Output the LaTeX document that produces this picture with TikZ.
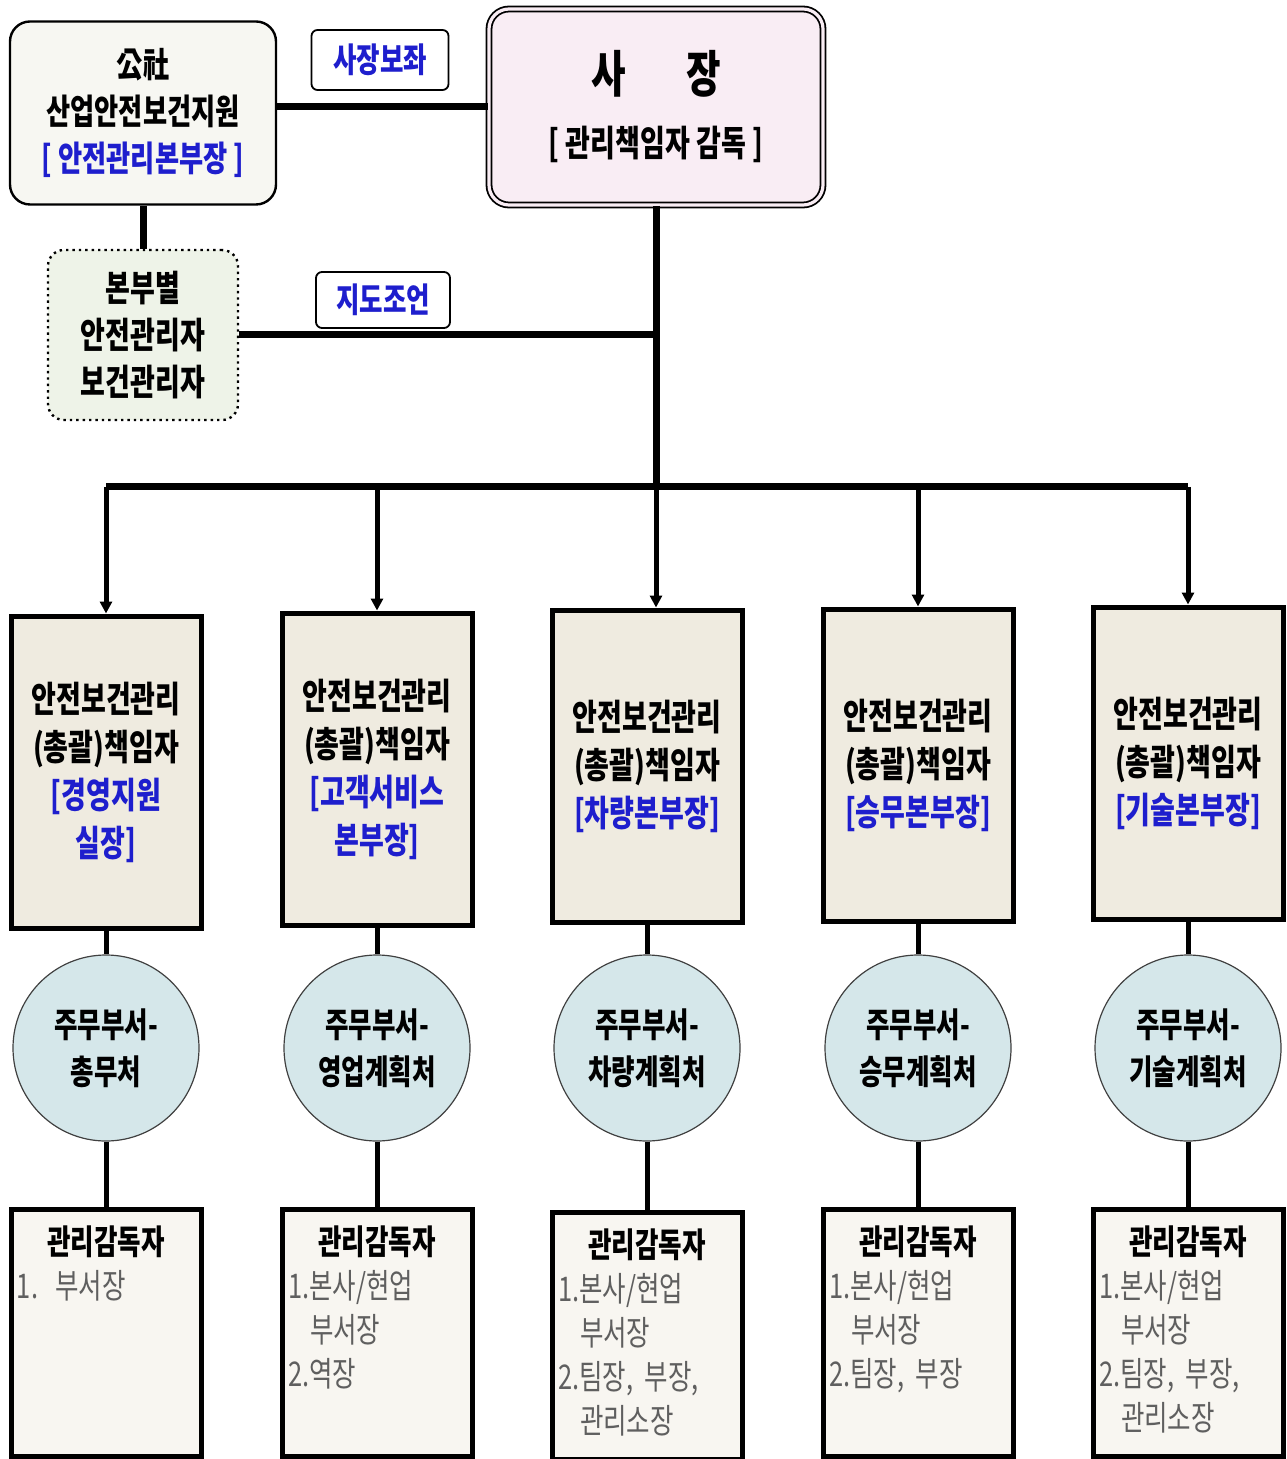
\documentclass[tikz,border=0pt]{standalone}
\usepackage{fontspec}
\setmainfont{Noto Sans CJK KR}[FakeStretch=0.75]
\usetikzlibrary{arrows.meta}
\definecolor{headblue}{RGB}{30,30,205}
\definecolor{itemgray}{RGB}{95,95,95}
\definecolor{topbg}{RGB}{247,247,242}
\definecolor{ceobg}{RGB}{249,237,244}
\definecolor{localbg}{RGB}{238,243,232}
\definecolor{leadbg}{RGB}{239,235,224}
\definecolor{deptbg}{RGB}{213,231,234}
\definecolor{staffbg}{RGB}{248,246,241}
\tikzset{
	% node styles for the chart: top boxes, tags, lead boxes, circles, staff boxes
	top node/.style={draw,line width=1.2pt,fill=topbg,rounded corners=10pt,align=center,font=\bfseries\fontsize{17.5}{23.5}\selectfont},
	ceo node/.style={draw,line width=0.9pt,double=ceobg,double distance=1.6pt,fill=ceobg,rounded corners=10pt,align=center,font=\bfseries\fontsize{18}{24}\selectfont},
	tag node/.style={draw,line width=0.9pt,fill=white,rounded corners=3pt,text=headblue,font=\bfseries\fontsize{17}{20}\selectfont},
	local node/.style={draw,dotted,line width=1.2pt,fill=localbg,rounded corners=8pt,align=center,font=\bfseries\fontsize{18}{23.5}\selectfont},
	lead node/.style={draw,line width=2.5pt,fill=leadbg,minimum width=95pt,minimum height=156pt,align=center,font=\bfseries\fontsize{18}{24}\selectfont},
	dept node/.style={circle,draw=black!75,line width=0.6pt,fill=deptbg,minimum size=93pt,inner sep=0pt,align=center,font=\bfseries\fontsize{17}{23.5}\selectfont},
	staff node/.style={draw,line width=2.5pt,fill=staffbg,minimum width=95pt,minimum height=123.5pt},
	staff text/.style={anchor=north,yshift=-6pt,align=left,text width=89pt,inner sep=3pt,text=itemgray,font=\fontsize{17}{22}\selectfont},
	bus line/.style={line width=3.5pt},
	stem line/.style={line width=2.5pt},
	down arrow/.style={line width=2.5pt,-{Triangle[length=6pt,width=6pt]}}
}
\newcommand{\staffhead}{\makebox[89pt]{\textcolor{black}{\bfseries 관리감독자}}}

\begin{document}
\begin{tikzpicture}[x=0.5pt,y=-0.5pt]
\useasboundingbox (0,0) rectangle (1286,1459);

% top row: support office and president
\node(kosha)[top node,minimum width=133pt,minimum height=91.5pt] at (143,113) {公社\\산업안전보건지원\\\textcolor{headblue}{[ 안전관리본부장 ]}};
\node(ceo)[ceo node,minimum width=167pt,minimum height=98pt] at (656,107) {{\fontsize{25}{30}\selectfont 사\hspace{30pt}장}\\[8pt][ 관리책임자 감독 ]};
\node(aide)[tag node,minimum width=68.5pt,minimum height=30pt] at (380,60) {사장보좌};

% local managers (dotted box)
\node(local)[local node,minimum width=95pt,minimum height=85pt] at (143,335) {본부별\\안전관리자\\보건관리자};
\node(advice)[tag node,minimum width=67pt,minimum height=28pt] at (383,300) {지도조언};

% junction of the bus
\coordinate(hub) at (656,487);

% lead boxes (level 1)
\node(m1)[lead node] at (106,772) {안전보건관리\\(총괄)책임자\\\textcolor{headblue}{[경영지원}\\\textcolor{headblue}{실장]}};
\node(m2)[lead node] at (377,769) {안전보건관리\\(총괄)책임자\\\textcolor{headblue}{[고객서비스}\\\textcolor{headblue}{본부장]}};
\node(m3)[lead node] at (647,766) {안전보건관리\\(총괄)책임자\\\textcolor{headblue}{[차량본부장]}};
\node(m4)[lead node] at (918,765) {안전보건관리\\(총괄)책임자\\\textcolor{headblue}{[승무본부장]}};
\node(m5)[lead node] at (1188,763) {안전보건관리\\(총괄)책임자\\\textcolor{headblue}{[기술본부장]}};

% departments in charge (level 2)
\node(c1)[dept node] at (106,1048) {주무부서-\\총무처};
\node(c2)[dept node] at (377,1048) {주무부서-\\영업계획처};
\node(c3)[dept node] at (647,1048) {주무부서-\\차량계획처};
\node(c4)[dept node] at (918,1048) {주무부서-\\승무계획처};
\node(c5)[dept node] at (1188,1048) {주무부서-\\기술계획처};

% supervisors (level 3)
\node(s1)[staff node,label={[staff text]north:{\staffhead\\1. 부서장}}] at (106,1333) {};
\node(s2)[staff node,label={[staff text]north:{\staffhead\\1.본사/현업\\\hspace*{11pt}부서장\\2.역장}}] at (377,1333) {};
\node(s3)[staff node,label={[staff text]north:{\staffhead\\1.본사/현업\\\hspace*{11pt}부서장\\2.팀장, 부장,\\\hspace*{11pt}관리소장}}] at (647,1336) {};
\node(s4)[staff node,label={[staff text]north:{\staffhead\\1.본사/현업\\\hspace*{11pt}부서장\\2.팀장, 부장}}] at (918,1333) {};
\node(s5)[staff node,label={[staff text]north:{\staffhead\\1.본사/현업\\\hspace*{11pt}부서장\\2.팀장, 부장,\\\hspace*{11pt}관리소장}}] at (1188,1333) {};

% top connectors
\draw[bus line](kosha.east |- ceo.west)--(ceo.west);
\draw[bus line](kosha.south)--(local.north);
\draw[bus line](ceo.south)--(hub);
\draw[bus line](local.east)--(local.east -| hub);
\draw[bus line](m1.north |- hub)--(m5.north |- hub);

% arrows to lead boxes
\draw[down arrow](m1.north |- hub)--(m1.north);
\draw[down arrow](m2.north |- hub)--(m2.north);
\draw[down arrow](hub)--(hub |- m3.north);
\draw[down arrow](m4.north |- hub)--(m4.north);
\draw[down arrow](m5.north |- hub)--(m5.north);

% stems to circles and supervisors
\draw[stem line](m1.south)--(c1.north);
\draw[stem line](m2.south)--(c2.north);
\draw[stem line](m3.south)--(c3.north);
\draw[stem line](m4.south)--(c4.north);
\draw[stem line](m5.south)--(c5.north);
\draw[stem line](c1.south)--(s1.north);
\draw[stem line](c2.south)--(s2.north);
\draw[stem line](c3.south)--(s3.north);
\draw[stem line](c4.south)--(s4.north);
\draw[stem line](c5.south)--(s5.north);

\end{tikzpicture}
\end{document}
